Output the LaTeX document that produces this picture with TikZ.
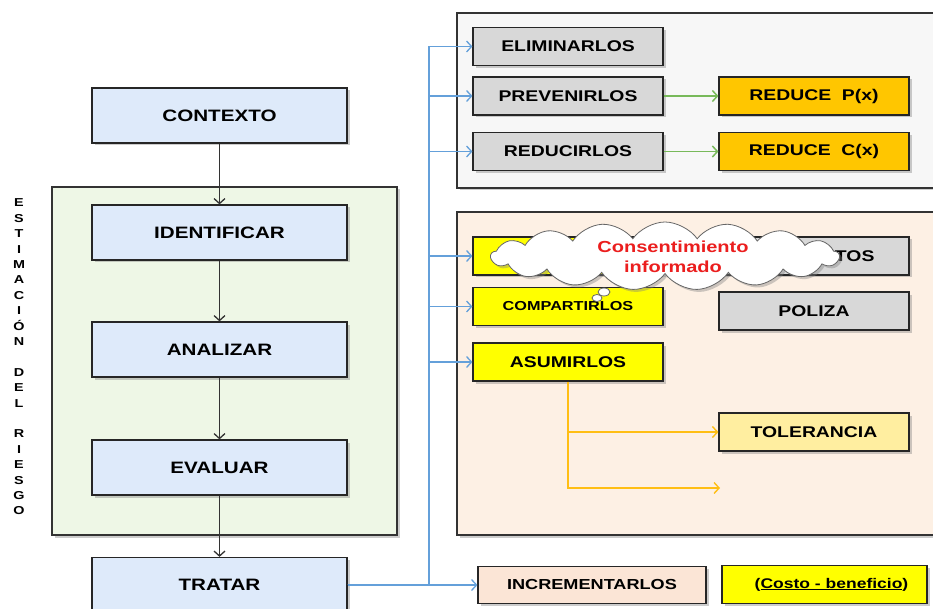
\documentclass[tikz,border=0pt]{standalone}
\usepackage{fontspec}
\newfontfamily\cajafont{Liberation Sans}[FakeStretch=1.25]
\usetikzlibrary{arrows.meta,shadows,shapes.symbols}

\definecolor{azulcaja}{RGB}{222,234,250}
\definecolor{grisc}{RGB}{216,216,216}
\definecolor{oro}{RGB}{255,198,0}
\definecolor{amarillo}{RGB}{255,255,0}
\definecolor{crema}{RGB}{255,238,160}
\definecolor{durazno}{RGB}{251,229,214}
\definecolor{panelverde}{RGB}{238,247,230}
\definecolor{panelgris}{RGB}{247,247,247}
\definecolor{panelpiel}{RGB}{253,240,228}
\definecolor{azullinea}{RGB}{100,160,218}
\definecolor{verdelinea}{RGB}{120,185,90}
\definecolor{naranjalinea}{RGB}{255,190,20}
\definecolor{rojotexto}{RGB}{235,30,30}

\begin{document}
\begin{tikzpicture}[x=1pt, y=-1pt,
  sombra/.style={drop shadow={shadow xshift=2.5pt, shadow yshift=-2.5pt, opacity=0.4}},
  panel/.style={draw=black!80, line width=1.2pt, sombra},
  caja/.style={draw=black!85, line width=1.2pt, sombra, inner sep=0pt,
    font=\cajafont\bfseries\fontsize{15.5}{18}\selectfont},
  paso/.style={caja, fill=azulcaja, minimum width=255pt, minimum height=55pt,
    font=\cajafont\bfseries\fontsize{16.5}{19}\selectfont},
  gris/.style={caja, fill=grisc, minimum width=190pt, minimum height=38pt},
  dorado/.style={caja, fill=oro, minimum width=190pt, minimum height=38pt},
  amar/.style={caja, fill=amarillo, minimum width=190pt, minimum height=38pt},
  suave/.style={caja, fill=crema, minimum width=190pt, minimum height=38pt},
  flecha/.style={draw=black!80, line width=1.3pt, -{Straight Barb[length=5pt,width=11pt]}},
  azul/.style={draw=azullinea, line width=1.3pt, -{Straight Barb[length=5pt,width=11pt]}},
  verde/.style={draw=verdelinea, line width=1.5pt, -{Straight Barb[length=5pt,width=11pt]}},
  naranja/.style={draw=naranjalinea, line width=1.4pt, -{Straight Barb[length=5pt,width=11pt]}}
]
\path[use as bounding box, clip] (0,0) rectangle (933,609);

\draw[panel, fill=panelverde] (52,187) rectangle (397,535);
\draw[panel, fill=panelgris] (457,13) rectangle (940,188);
\draw[panel, fill=panelpiel] (457,212) rectangle (940,535);

\node[font=\cajafont\bfseries\fontsize{11.5}{15.4}\selectfont, align=center, inner sep=0pt] (estimacion) at (19,357)
  {E\\S\\T\\I\\M\\A\\C\\I\\Ó\\N\\[15.4pt]D\\E\\L\\[15.4pt]R\\I\\E\\S\\G\\O};

\node[paso] (contexto) at (219.5,115.5) {CONTEXTO};
\node[paso] (identificar) at (219.5,232.5) {IDENTIFICAR};
\node[paso] (analizar) at (219.5,349.5) {ANALIZAR};
\node[paso] (evaluar) at (219.5,467.5) {EVALUAR};
\node[paso] (tratar) at (219.5,585) {TRATAR};

\node[gris] (eliminar) at (568,46.5) {ELIMINARLOS};
\node[gris] (prevenir) at (568,96) {PREVENIRLOS};
\node[gris] (reducir) at (568,151.5) {REDUCIRLOS};
\node[dorado] (reducep) at (814,96) {REDUCE\ \ P(x)};
\node[dorado] (reducec) at (814,151.5) {REDUCE\ \ C(x)};

\node[amar] (evitar) at (568,256) {};
\node[amar, font=\cajafont\bfseries\fontsize{13}{15}\selectfont] (compartir) at (568,306.5) {COMPARTIRLOS};
\node[amar] (asumir) at (568,362) {ASUMIRLOS};
\node[gris] (contratos) at (814,256) {CONTRATOS};
\node[gris] (poliza) at (814,311) {POLIZA};
\node[suave] (tolerancia) at (814,432) {TOLERANCIA};

\node[caja, fill=durazno, minimum width=228pt, minimum height=37pt,
  font=\cajafont\bfseries\fontsize{14.5}{17}\selectfont] (incrementar) at (592,585) {INCREMENTARLOS};
\node[caja, fill=amarillo, minimum width=205pt, minimum height=38pt,
  font=\cajafont\bfseries\fontsize{14}{16}\selectfont] (costo) at (824.5,584.5) {\hspace*{14pt}(\underline{Costo - beneficio})};

\foreach \a/\b in {contexto/identificar, identificar/analizar, analizar/evaluar, evaluar/tratar}
  \draw[flecha] (\a) -- (\b);

\coordinate (tronco) at (429,46.5);
\foreach \d in {eliminar,prevenir,reducir,evitar,compartir,asumir,incrementar}
  \draw[azul] (tratar.east) -- (tronco|-tratar.east) |- (\d.west);

\draw[verde] (prevenir) -- (reducep);
\draw[verde] (reducir) -- (reducec);

\coordinate (libre) at (720,488);
\draw[naranja] (asumir.south) -- (asumir.south|-libre) -- (libre);
\draw[naranja] (asumir.south|-tolerancia.west) -- (tolerancia.west);

\node[cloud, cloud puffs=17, cloud puff arc=110, aspect=5.3, minimum width=348pt, minimum height=68pt,
  draw=black!60, line width=0.8pt, fill=white, sombra, inner sep=0pt] (nube) at (665,256) {};
\node[align=center, text=rojotexto, inner sep=0pt,
  font=\cajafont\bfseries\fontsize{16}{20}\selectfont] (nubetexto) at (673,257) {Consentimiento\\informado};
\draw[draw=black!60, fill=white, line width=0.8pt] (604,292) ellipse (6 and 4);
\draw[draw=black!60, fill=white, line width=0.8pt] (597,298) ellipse (5 and 3.5);
\end{tikzpicture}
\end{document}
